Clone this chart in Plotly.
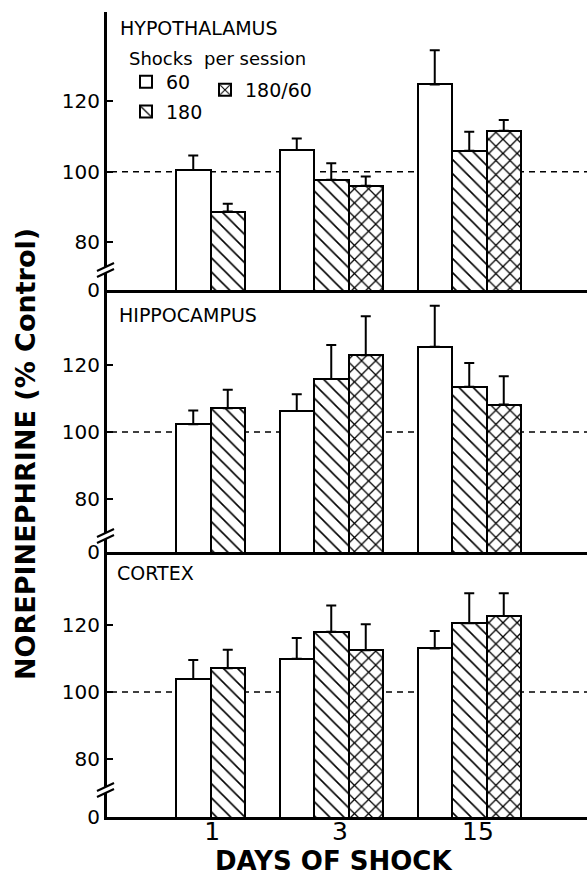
import plotly.graph_objects as go
from plotly.subplots import make_subplots

# ---------------- data ----------------
days = ["1", "3", "15"]
series = ["60", "180", "180/60"]
regions = ["HYPOTHALAMUS", "HIPPOCAMPUS", "CORTEX"]

hyp_60 = [100.5, 106.1, 124.7]
hyp_180 = [88.7, 97.7, 105.9]
hyp_18060 = [None, 96.0, 111.6]
hyp_60_err = [4.1, 3.3, 9.7]
hyp_180_err = [2.2, 4.7, 5.4]
hyp_18060_err = [0, 2.6, 3.0]

hip_60 = [102.3, 106.3, 125.4]
hip_180 = [107.1, 115.8, 113.5]
hip_18060 = [None, 122.9, 108.2]
hip_60_err = [4.1, 5.0, 12.2]
hip_180_err = [5.5, 10.1, 7.1]
hip_18060_err = [0, 11.6, 8.4]

ctx_60 = [103.9, 109.9, 113.0]
ctx_180 = [107.1, 118.0, 120.5]
ctx_18060 = [None, 112.5, 122.7]
ctx_60_err = [5.7, 6.2, 5.2]
ctx_180_err = [5.5, 7.8, 9.0]
ctx_18060_err = [0, 7.7, 6.8]

control_level = 100
y_ticks = [80, 100, 120]

# ---------------- layout constants ----------------
W, H = 587, 880
PL, PR, PT, PB = 107, 587, 12, 817
group_pos = [3.5, 6.5, 10.5]          # x positions of day groups (bar width = 1)
label_pos = [3.05, 6.75, 10.75]
x_range = [0, (PR - PL) / 34.5]
y_ranges = [[66.5, 145.2], [64.3, 142.3], [62.7, 141.8]]
row_px = [278, 262, 265]
FONT = "DejaVu Sans"

def px_x(p):
    return (p - PL) / (PR - PL)

def px_y(p):
    return (PB - p) / (PB - PT)

values = [
    (hyp_60, hyp_180, hyp_18060, hyp_60_err, hyp_180_err, hyp_18060_err),
    (hip_60, hip_180, hip_18060, hip_60_err, hip_180_err, hip_18060_err),
    (ctx_60, ctx_180, ctx_18060, ctx_60_err, ctx_180_err, ctx_18060_err),
]

patterns = [
    dict(shape=""),
    dict(shape="\\", size=10, solidity=0.16, fgcolor="black", fgopacity=1, bgcolor="white"),
    dict(shape="x", size=10, solidity=0.24, fgcolor="black", fgopacity=1, bgcolor="white"),
]
legends = ["legend", "legend", "legend2"]

fig = make_subplots(rows=3, cols=1, shared_xaxes=True, vertical_spacing=0,
                    row_heights=row_px)

for r, vals in enumerate(values, start=1):
    for k in range(3):
        yv = vals[k]
        err = vals[k + 3]
        fig.add_trace(go.Bar(
            x=group_pos, y=yv, name=series[k],
            marker=dict(color="white", line=dict(color="black", width=2),
                        pattern=patterns[k]),
            error_y=dict(type="data", array=err, arrayminus=[0] * len(err),
                         symmetric=False, color="black", thickness=2, width=5),
            showlegend=(r == 1), legend=legends[k], legendgroup=series[k],
        ), row=r, col=1)

fig.update_layout(
    width=W, height=H,
    margin=dict(l=PL, r=W - PR, t=PT, b=H - PB),
    paper_bgcolor="white", plot_bgcolor="white",
    barmode="group", bargap=0, bargroupgap=0,
    font=dict(family=FONT, color="black"),
    legend=dict(x=px_x(126), y=px_y(63), xanchor="left", yanchor="top",
                font=dict(size=19, family=FONT), bgcolor="rgba(0,0,0,0)",
                tracegroupgap=2, itemwidth=30),
    legend2=dict(x=px_x(205), y=px_y(71), xanchor="left", yanchor="top",
                 font=dict(size=19, family=FONT), bgcolor="rgba(0,0,0,0)",
                 itemwidth=30),
)

for r in range(1, 4):
    fig.update_xaxes(range=x_range, showline=True, linewidth=3, linecolor="black",
                     showgrid=False, zeroline=False, ticks="",
                     tickvals=label_pos, ticktext=days,
                     showticklabels=(r == 3), ticklabelstandoff=-10,
                     tickfont=dict(size=25, family=FONT, color="black"),
                     row=r, col=1)
    lo, hi = y_ranges[r - 1]
    fig.update_yaxes(range=[lo, hi], showline=True, linewidth=3, linecolor="black",
                     showgrid=False, zeroline=False,
                     tickvals=[lo] + y_ticks, ticktext=["0"] + [str(t) for t in y_ticks],
                     ticks="inside", ticklen=6, tickwidth=2, tickcolor="black",
                     tickfont=dict(size=20, family=FONT, color="black"),
                     row=r, col=1)

shapes = []
for r in range(1, 4):
    yref = "y" if r == 1 else f"y{r}"
    shapes.append(dict(type="line", xref="paper", yref=yref, x0=px_x(111), x1=1,
                       y0=control_level, y1=control_level, layer="below",
                       line=dict(color="black", width=1.5, dash="6px,5px")))

# axis break marks
for yb in [270, 536, 790]:
    shapes.append(dict(type="rect", xref="paper", yref="paper",
                       x0=px_x(104), x1=px_x(110), y0=px_y(yb + 3), y1=px_y(yb - 3),
                       fillcolor="white", line=dict(width=0)))
    for d in (-3, 3):
        shapes.append(dict(type="line", xref="paper", yref="paper",
                           x0=px_x(97), x1=px_x(114),
                           y0=px_y(yb + d + 4), y1=px_y(yb + d - 4),
                           line=dict(color="black", width=2)))
fig.update_layout(shapes=shapes)

annotations = [
    dict(text=regions[0], x=px_x(118), y=px_y(28)),
    dict(text=regions[1], x=px_x(117), y=px_y(315)),
    dict(text=regions[2], x=px_x(115), y=px_y(573)),
]
for a in annotations:
    a.update(xref="paper", yref="paper", xanchor="left", yanchor="middle",
             showarrow=False, font=dict(size=19, family=FONT, color="black"))
annotations.append(dict(text="Shocks  per session", x=px_x(127), y=px_y(58),
                        xref="paper", yref="paper", xanchor="left", yanchor="middle",
                        showarrow=False, font=dict(size=18, family=FONT, color="black")))
annotations.append(dict(text="<b>NOREPINEPHRINE (% Control)</b>", x=px_x(25), y=px_y(454),
                        xref="paper", yref="paper", xanchor="center", yanchor="middle",
                        textangle=-90, showarrow=False,
                        font=dict(size=27, family=FONT, color="black")))
annotations.append(dict(text="<b>DAYS OF SHOCK</b>", x=px_x(333), y=px_y(861),
                        xref="paper", yref="paper", xanchor="center", yanchor="middle",
                        showarrow=False, font=dict(size=26, family=FONT, color="black")))
fig.update_layout(annotations=annotations)

fig.write_html("out.html")
